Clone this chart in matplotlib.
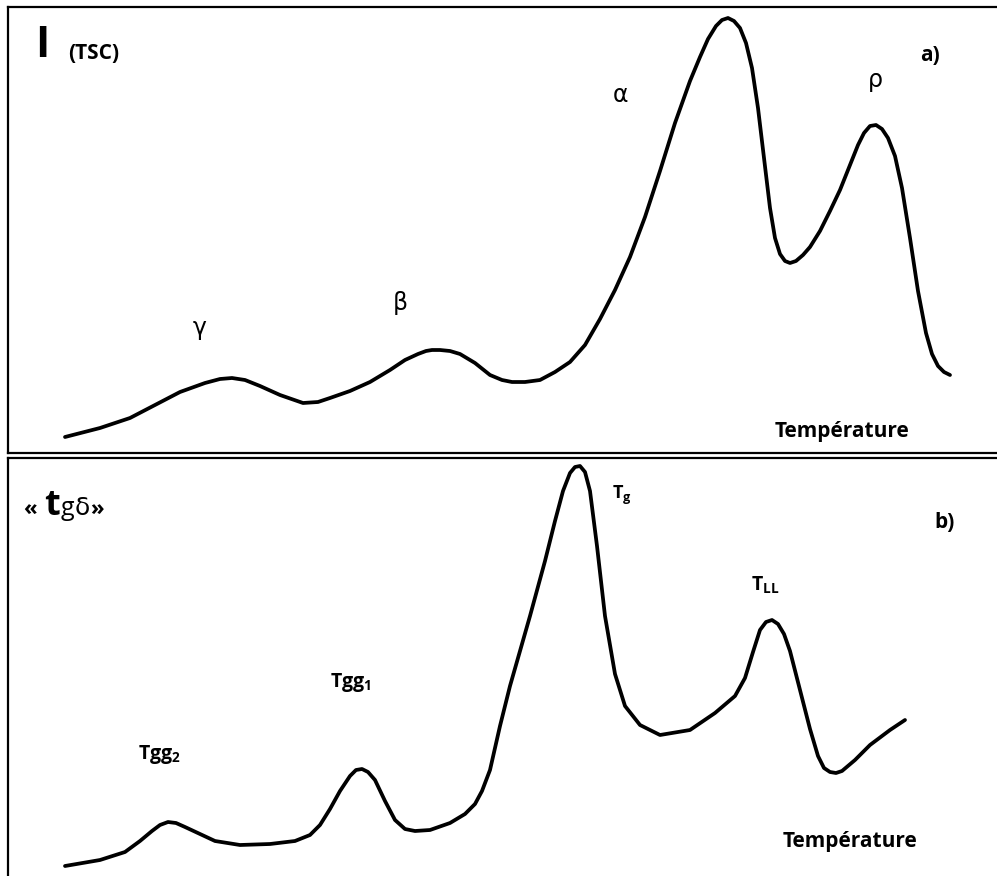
import numpy as np
import matplotlib.pyplot as plt

plt.rcParams['mathtext.fontset'] = 'custom'
plt.rcParams['mathtext.rm'] = 'Open Sans'
plt.rcParams['mathtext.bf'] = 'Open Sans:bold'

# a) TSC current vs temperature (arbitrary units)
temp_a = [65, 100, 130, 155, 180, 205, 220, 232, 245, 260, 280, 303, 318, 330,
          350, 370, 390, 405, 418, 426, 432, 440, 450, 460, 475, 490, 502, 512,
          525, 540, 555, 570, 585, 600, 615, 630, 645, 660, 675, 690, 700, 708,
          716, 722, 728, 734, 740, 746, 752, 758, 764, 770, 775, 780, 785, 790,
          796, 803, 810, 820, 830, 840, 850, 858, 864, 870, 876, 882, 888, 895,
          902, 910, 918, 926, 932, 938, 944, 950]
tsc_a = [16, 25, 35, 48, 61, 70, 74, 75, 73, 67, 58, 50, 51, 55,
         62, 71, 83, 93, 99, 102, 103, 103, 102, 99, 90, 78, 73, 71,
         71, 73, 81, 91, 108, 134, 163, 196, 236, 282, 330, 372, 396, 414,
         427, 433, 435, 432, 425, 410, 385, 345, 295, 245, 215, 199, 192, 190,
         192, 198, 206, 222, 242, 263, 288, 308, 320, 327, 328, 324, 315, 297,
         265, 215, 162, 120, 99, 87, 81, 78]

# b) tan delta vs temperature
temp_b = [65, 100, 125, 140, 152, 160, 168, 176, 185, 200, 215, 240, 270, 295,
          310, 320, 330, 340, 350, 356, 362, 368, 375, 385, 395, 405, 415, 430,
          450, 465, 475, 482, 490, 500, 510, 520, 530, 545, 555, 563, 570, 575,
          580, 585, 590, 597, 605, 615, 625, 640, 660, 690, 715, 735, 745, 753,
          760, 766, 772, 778, 784, 790, 800, 810, 818, 824, 830, 836, 842, 855,
          870, 890, 905]
tand_b = [10, 16, 24, 35, 45, 51, 54, 53, 49, 42, 35, 31, 32, 35,
          41, 51, 67, 85, 100, 106, 107, 104, 96, 75, 56, 47, 45, 46,
          53, 62, 72, 85, 106, 150, 190, 225, 260, 315, 355, 385, 403, 409,
          410, 404, 385, 330, 260, 202, 170, 151, 141, 146, 163, 180, 198, 224,
          246, 254, 256, 252, 242, 225, 186, 147, 120, 108, 104, 103, 105, 116,
          131, 146, 156]

W, H = 997, 876
fig = plt.figure(figsize=(W / 100, H / 100), dpi=100)

ax1 = fig.add_axes([8 / W, (H - 453) / H, 1.0, 446 / H])
ax2 = fig.add_axes([8 / W, -10 / H, 1.0, 428 / H])

for ax in (ax1, ax2):
    ax.set_xticks([])
    ax.set_yticks([])
    for s in ax.spines.values():
        s.set_linewidth(1.6)
        s.set_color('black')

ax1.plot(temp_a, tsc_a, color='black', lw=2.7, solid_capstyle='round',
         solid_joinstyle='round')
ax1.set_xlim(8, 8 + W)
ax1.set_ylim(0, 446)

ax2.plot(temp_b, tand_b, color='black', lw=2.7, solid_capstyle='round',
         solid_joinstyle='round')
ax2.set_xlim(8, 8 + W)
ax2.set_ylim(-10, 418)

bold = dict(family='Open Sans', fontweight='bold')
greek = dict(family='DejaVu Sans', fontsize=17)

# top panel labels
ax1.text(35, 408, 'I', fontsize=31, ha='left', va='center', **bold)
ax1.text(68, 400, '(TSC)', fontsize=15, ha='left', va='center', **bold)
ax1.text(200, 125, 'γ', ha='center', va='center', **greek)
ax1.text(400, 150, 'β', ha='center', va='center', **greek)
ax1.text(620, 358, 'α', ha='center', va='center', **greek)
ax1.text(875, 373, 'ρ', ha='center', va='center', **greek)
ax1.text(930, 398, 'a)', fontsize=15, ha='center', va='center', **bold)
ax1.text(842, 21, 'Température', fontsize=15, ha='center', va='center', **bold)

# bottom panel labels
ax2.text(23, 361, '«', fontsize=16, ha='left', va='baseline', **bold)
ax2.text(44, 361, 't', fontsize=26, ha='left', va='baseline', **bold)
ax2.text(61, 361, 'g', fontsize=18, ha='left', va='baseline', family='Open Sans')
ax2.text(75, 361, 'δ', fontsize=18, ha='left', va='baseline', family='DejaVu Sans')
ax2.text(90, 361, '»', fontsize=16, ha='left', va='baseline', **bold)
ax2.text(612, 381, r'$\mathbf{T}_{\mathbf{g}}$', fontsize=13, ha='left', va='center')
ax2.text(945, 353, 'b)', fontsize=15, ha='center', va='center', **bold)
ax2.text(751, 291, r'$\mathbf{T}_{\mathbf{LL}}$', fontsize=14, ha='left', va='center')
ax2.text(330, 193, r'$\mathbf{Tgg}_{\mathbf{1}}$', fontsize=14, ha='left', va='center')
ax2.text(138, 121, r'$\mathbf{Tgg}_{\mathbf{2}}$', fontsize=14, ha='left', va='center')
ax2.text(850, 34, 'Température', fontsize=15, ha='center', va='center', **bold)

plt.savefig('out.png', dpi=100)
